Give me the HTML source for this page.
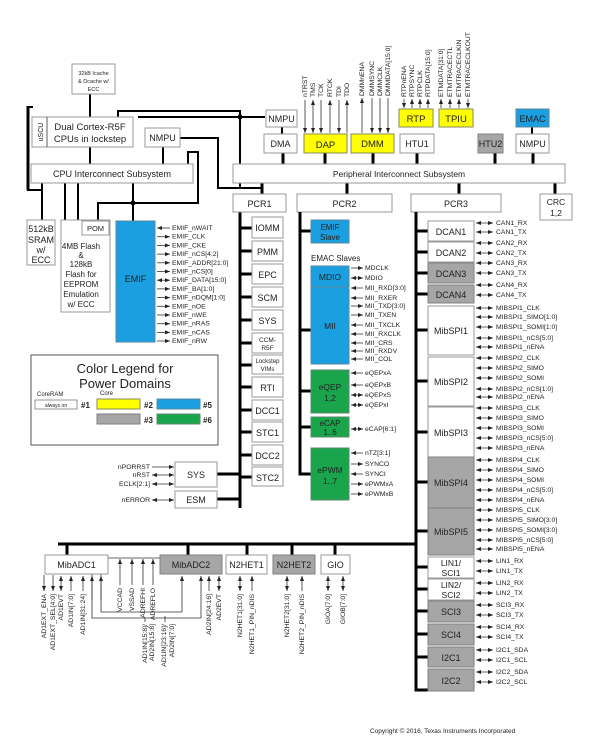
<!DOCTYPE html>
<html><head><meta charset="utf-8"><style>
body{margin:0;background:#fff}
svg{display:block;font-family:"Liberation Sans",sans-serif;font-size:6.8px}
.b{fill:#fff;stroke:#9a9a9a;stroke-width:1}
.y{fill:#ffff00;stroke:#8a8a5a;stroke-width:1}
.u{fill:#1a9fe0;stroke:#5a8aa0;stroke-width:1}
.g{fill:#a6a6a6;stroke:#808080;stroke-width:1}
.n{fill:#1aa54c;stroke:#5a8a6a;stroke-width:1}
.t{fill:#222;text-anchor:middle}
.s{fill:#222}
.k{stroke:#000;stroke-width:3;fill:none}
.m{stroke:#000;stroke-width:2;fill:none}
.l{stroke:#333;stroke-width:0.8;fill:none}
.a{stroke:#333;stroke-width:0.8;marker-end:url(#ar)}
.d{stroke:#333;stroke-width:0.8;marker-end:url(#ar);marker-start:url(#al)}
.r{stroke:#333;stroke-width:0.8;marker-start:url(#al)}
</style></head><body>
<svg width="603" height="740" viewBox="0 0 603 740">
<defs>
<marker id="ar" markerWidth="5" markerHeight="4" refX="5" refY="2" orient="auto" markerUnits="userSpaceOnUse"><path d="M0,0L5,2L0,4z" fill="#222"/></marker>
<marker id="al" markerWidth="5" markerHeight="4" refX="0" refY="2" orient="auto" markerUnits="userSpaceOnUse"><path d="M5,0L0,2L5,4z" fill="#222"/></marker>
</defs>
<path class="m" d="M90,94V117 M90,147V164 M163,147V164 M118,117V111H240V188 M138,117H265 M180,138H218V188H240 M28,107H33 M28,107V190H42 M42,183V220 M65,183V220 M78,183V220 M133,183V221 M98,221V203H198V152H188V164 M240,188H262V194"/>
<circle cx="240" cy="117" r="2.5"/><circle cx="133" cy="203" r="2.5"/>
<path class="k" d="M28,106V190"/>
<rect class="b" x="72" y="64" width="43" height="30"/>
<text class="s" x="93.5" y="75" text-anchor="middle" font-size="5.5">32kB Icache</text>
<text class="s" x="93.5" y="83" text-anchor="middle" font-size="5.5">&amp; Dcache w/</text>
<text class="s" x="93.5" y="91" text-anchor="middle" font-size="5.5">ECC</text>
<rect class="b" x="32" y="117" width="101" height="30"/><line class="l" x1="47" y1="117" x2="47" y2="147"/>
<text class="s" transform="translate(43,132) rotate(-90)" text-anchor="middle" font-size="7">uSCU</text>
<text class="t" x="90" y="130" font-size="9.5">Dual Cortex-R5F</text>
<text class="t" x="90" y="142" font-size="9.5">CPUs in lockstep</text>
<rect class="b" x="145" y="128" width="35" height="19"/><text class="t" x="162.5" y="141" font-size="9">NMPU</text>
<rect class="b" x="31" y="164" width="162" height="19"/><text class="t" x="112" y="177" font-size="9">CPU Interconnect Subsystem</text>
<rect class="b" x="27" y="220" width="28" height="45"/>
<text class="t" x="41" y="232" font-size="9">512kB</text><text class="t" x="41" y="243" font-size="9">SRAM</text><text class="t" x="41" y="253" font-size="9">w/</text><text class="t" x="41" y="263" font-size="9">ECC</text>
<rect class="b" x="61" y="220" width="49" height="92"/>
<rect class="b" x="82" y="221" width="27" height="14"/><text class="t" x="95.5" y="231" font-size="7.5">POM</text>
<text class="t" x="81" y="249" font-size="8">4MB Flash</text><text class="t" x="81" y="258" font-size="8">&amp;</text><text class="t" x="81" y="267" font-size="8">128kB</text><text class="t" x="81" y="277" font-size="8">Flash for</text><text class="t" x="81" y="287" font-size="8">EEPROM</text><text class="t" x="81" y="297" font-size="8">Emulation</text><text class="t" x="81" y="307" font-size="8">w/ ECC</text>
<rect class="u" x="116" y="221" width="39" height="121"/><text class="t" x="135.5" y="282" font-size="9">EMIF</text>
<g>
<line class="r" x1="157" y1="228" x2="170" y2="228"/><text class="s" x="172" y="230">EMIF_nWAIT</text>
<line class="a" x1="157" y1="236.7" x2="170" y2="236.7"/><text class="s" x="172" y="238.7">EMIF_CLK</text>
<line class="a" x1="157" y1="245.4" x2="170" y2="245.4"/><text class="s" x="172" y="247.4">EMIF_CKE</text>
<line class="a" x1="157" y1="254.1" x2="170" y2="254.1"/><text class="s" x="172" y="256.1">EMIF_nCS[4:2]</text>
<line class="a" x1="157" y1="262.8" x2="170" y2="262.8"/><text class="s" x="172" y="264.8">EMIF_ADDR[21:0]</text>
<line class="a" x1="157" y1="271.5" x2="170" y2="271.5"/><text class="s" x="172" y="273.5">EMIF_nCS[0]</text>
<line class="d" x1="157" y1="280.2" x2="170" y2="280.2"/><text class="s" x="172" y="282.2">EMIF_DATA[15:0]</text>
<line class="a" x1="157" y1="288.9" x2="170" y2="288.9"/><text class="s" x="172" y="290.9">EMIF_BA[1:0]</text>
<line class="a" x1="157" y1="297.6" x2="170" y2="297.6"/><text class="s" x="172" y="299.6">EMIF_nDQM[1:0]</text>
<line class="a" x1="157" y1="306.3" x2="170" y2="306.3"/><text class="s" x="172" y="308.3">EMIF_nOE</text>
<line class="a" x1="157" y1="315" x2="170" y2="315"/><text class="s" x="172" y="317">EMIF_nWE</text>
<line class="a" x1="157" y1="323.7" x2="170" y2="323.7"/><text class="s" x="172" y="325.7">EMIF_nRAS</text>
<line class="a" x1="157" y1="332.4" x2="170" y2="332.4"/><text class="s" x="172" y="334.4">EMIF_nCAS</text>
<line class="a" x1="157" y1="341" x2="170" y2="341"/><text class="s" x="172" y="343">EMIF_nRW</text>
</g>
<rect x="31" y="355" width="187" height="90" fill="#fff" stroke="#555" stroke-width="1"/>
<text class="t" x="125" y="373" font-size="13">Color Legend for</text>
<text class="t" x="125" y="388" font-size="13">Power Domains</text>
<text class="s" x="37" y="396" font-size="6">CoreRAM</text><text class="s" x="100" y="395" font-size="6">Core</text>
<rect x="35" y="400" width="42" height="9" fill="#fff" stroke="#666" stroke-width="0.7"/><text class="s" x="56" y="407" text-anchor="middle" font-size="5">always on</text>
<text class="s" x="81" y="408" font-size="8" font-weight="bold">#1</text>
<rect class="y" x="97" y="399" width="43" height="10"/><text class="s" x="144" y="408" font-size="8" font-weight="bold">#2</text>
<rect class="u" x="157" y="399" width="43" height="10"/><text class="s" x="203" y="408" font-size="8" font-weight="bold">#5</text>
<rect class="g" x="97" y="414" width="43" height="10"/><text class="s" x="144" y="423" font-size="8" font-weight="bold">#3</text>
<rect class="n" x="157" y="414" width="43" height="10"/><text class="s" x="203" y="423" font-size="8" font-weight="bold">#6</text>
<path class="k" d="M240,212V508 M217,474H240 M217,499H240"/>
<rect class="b" x="175" y="462" width="42" height="25"/><text class="t" x="196" y="478" font-size="9">SYS</text>
<rect class="b" x="175" y="491" width="42" height="17"/><text class="t" x="196" y="503" font-size="9">ESM</text>
<line class="a" x1="152" y1="467" x2="174" y2="467"/><text class="s" x="150" y="469" text-anchor="end">nPORRST</text>
<line class="d" x1="152" y1="475" x2="174" y2="475"/><text class="s" x="150" y="477" text-anchor="end">nRST</text>
<line class="d" x1="152" y1="484" x2="174" y2="484"/><text class="s" x="150" y="486" text-anchor="end">ECLK[2:1]</text>
<line class="d" x1="152" y1="500" x2="174" y2="500"/><text class="s" x="150" y="502" text-anchor="end">nERROR</text>
<g class="k"><path d="M240,228H252 M240,251H252 M240,274H252 M240,297H252 M240,320H252 M240,343H252 M240,365H252 M240,387H252 M240,410H252 M240,432H252 M240,455H252 M240,477H252"/></g>
<rect class="b" x="252" y="217" width="31" height="21"/><text class="t" x="267.5" y="231" font-size="9">IOMM</text>
<rect class="b" x="252" y="241" width="31" height="20"/><text class="t" x="267.5" y="255" font-size="9">PMM</text>
<rect class="b" x="252" y="264" width="31" height="20"/><text class="t" x="267.5" y="278" font-size="9">EPC</text>
<rect class="b" x="252" y="287" width="31" height="20"/><text class="t" x="267.5" y="301" font-size="9">SCM</text>
<rect class="b" x="252" y="310" width="31" height="20"/><text class="t" x="267.5" y="324" font-size="9">SYS</text>
<rect class="b" x="252" y="333" width="31" height="20"/><text class="t" x="267.5" y="342" font-size="6.5">CCM-</text><text class="t" x="267.5" y="350" font-size="6.5">R5F</text>
<rect class="b" x="252" y="355" width="31" height="19"/><text class="t" x="267.5" y="363" font-size="6">Lockstep</text><text class="t" x="267.5" y="371" font-size="6">VIMs</text>
<rect class="b" x="252" y="377" width="31" height="20"/><text class="t" x="267.5" y="391" font-size="9">RTI</text>
<rect class="b" x="252" y="400" width="31" height="20"/><text class="t" x="267.5" y="414" font-size="9">DCC1</text>
<rect class="b" x="252" y="422" width="31" height="20"/><text class="t" x="267.5" y="436" font-size="9">STC1</text>
<rect class="b" x="252" y="445" width="31" height="20"/><text class="t" x="267.5" y="459" font-size="9">DCC2</text>
<rect class="b" x="252" y="467" width="31" height="19"/><text class="t" x="267.5" y="481" font-size="9">STC2</text>
<path class="m" d="M282,127V134 M532,127V134"/>
<path class="k" d="M283,153V164 M325,153V164 M373,153V164 M417,153V164 M495,153V164 M533,153V164 M262,183V194 M347,183V194 M459,183V194 M555,183V194"/>
<rect class="b" x="266" y="110" width="31" height="17"/><text class="t" x="281.5" y="122" font-size="9">NMPU</text>
<rect class="b" x="264" y="134" width="33" height="19"/><text class="t" x="280.5" y="147" font-size="9">DMA</text>
<rect class="y" x="304" y="134" width="43" height="19"/><text class="t" x="325.5" y="148" font-size="9.5">DAP</text>
<rect class="y" x="351" y="134" width="43" height="19"/><text class="t" x="372.5" y="147" font-size="9.5">DMM</text>
<rect class="y" x="399" y="109" width="34" height="18"/><text class="t" x="416" y="122" font-size="9.5">RTP</text>
<rect class="y" x="439" y="109" width="34" height="18"/><text class="t" x="456" y="122" font-size="9.5">TPIU</text>
<rect class="b" x="400" y="134" width="34" height="19"/><text class="t" x="417" y="147" font-size="9">HTU1</text>
<rect class="g" x="478" y="134" width="25" height="19"/><text class="t" x="490.5" y="147" font-size="9">HTU2</text>
<rect class="u" x="516" y="109" width="33" height="18"/><text class="t" x="532.5" y="122" font-size="9">EMAC</text>
<rect class="b" x="516" y="134" width="33" height="19"/><text class="t" x="532.5" y="147" font-size="9">NMPU</text>
<rect class="b" x="233" y="164" width="332" height="19"/><text class="t" x="399" y="177" font-size="8.5">Peripheral Interconnect Subsystem</text>
<g>
<line class="a" x1="305" y1="100" x2="305" y2="133"/><line class="d" x1="313" y1="100" x2="313" y2="133"/><line class="a" x1="321" y1="100" x2="321" y2="133"/><line class="r" x1="330" y1="100" x2="330" y2="133"/><line class="a" x1="339" y1="100" x2="339" y2="133"/><line class="r" x1="347" y1="100" x2="347" y2="133"/>
<line class="r" x1="362" y1="98" x2="362" y2="133"/><line class="a" x1="372" y1="98" x2="372" y2="133"/><line class="a" x1="380" y1="98" x2="380" y2="133"/><line class="a" x1="388" y1="98" x2="388" y2="133"/>
<line class="a" x1="404" y1="99" x2="404" y2="108"/><line class="r" x1="412" y1="99" x2="412" y2="108"/><line class="r" x1="420" y1="99" x2="420" y2="108"/><line class="r" x1="428" y1="99" x2="428" y2="108"/>
<line class="r" x1="441" y1="99" x2="441" y2="108"/><line class="r" x1="450" y1="99" x2="450" y2="108"/><line class="r" x1="459" y1="99" x2="459" y2="108"/><line class="a" x1="468" y1="99" x2="468" y2="108"/>
</g>
<g class="s">
<text transform="translate(307,97) rotate(-90)">nTRST</text><text transform="translate(315,97) rotate(-90)">TMS</text><text transform="translate(323,97) rotate(-90)">TCK</text><text transform="translate(332,97) rotate(-90)">RTCK</text><text transform="translate(341,97) rotate(-90)">TDI</text><text transform="translate(349,97) rotate(-90)">TDO</text>
<text transform="translate(364,96) rotate(-90)">DMMnENA</text><text transform="translate(374,96) rotate(-90)">DMMSYNC</text><text transform="translate(382,96) rotate(-90)">DMMCLK</text><text transform="translate(390,96) rotate(-90)">DMMDATA[15:0]</text>
<text transform="translate(406,97) rotate(-90)">RTPnENA</text><text transform="translate(414,97) rotate(-90)">RTPSYNC</text><text transform="translate(422,97) rotate(-90)">RTPCLK</text><text transform="translate(430,97) rotate(-90)">RTPDATA[15:0]</text>
<text transform="translate(443,97) rotate(-90)">ETMDATA[31:0]</text><text transform="translate(452,97) rotate(-90)">ETMTRACECTL</text><text transform="translate(461,97) rotate(-90)">ETMTRACECLKIN</text><text transform="translate(470,97) rotate(-90)">ETMTRACECLKOUT</text>
</g>
<rect class="b" x="233" y="194" width="53" height="18"/><text class="t" x="259.5" y="207" font-size="9">PCR1</text>
<rect class="b" x="297" y="194" width="95" height="18"/><text class="t" x="344.5" y="207" font-size="9">PCR2</text>
<rect class="b" x="411" y="194" width="90" height="18"/><text class="t" x="456" y="207" font-size="9">PCR3</text>
<rect class="b" x="540" y="194" width="32" height="26"/><text class="t" x="556" y="205" font-size="8.5">CRC</text><text class="t" x="556" y="216" font-size="8.5">1,2</text>
<path class="k" d="M300,212V474H311 M300,231H311 M300,330H311 M300,391H311 M300,427H311"/>
<rect class="u" x="311" y="220" width="38" height="23"/><text class="t" x="330" y="230" font-size="8">EMIF</text><text class="t" x="330" y="240" font-size="8">Slave</text>
<text class="s" x="311" y="261" font-size="8">EMAC Slaves</text>
<rect class="u" x="311" y="266" width="38" height="21"/><text class="t" x="330" y="280" font-size="8.5">MDIO</text>
<rect class="u" x="311" y="287" width="38" height="77"/><text class="t" x="330" y="329" font-size="8.5">MII</text>
<rect class="n" x="311" y="370" width="38" height="43"/><text class="t" x="330" y="390" font-size="8.5">eQEP</text><text class="t" x="330" y="401" font-size="8.5">1,2</text>
<rect class="n" x="311" y="417" width="38" height="20"/><text class="t" x="330" y="426" font-size="8">eCAP</text><text class="t" x="330" y="435" font-size="8">1..6</text>
<rect class="n" x="311" y="448" width="38" height="52"/><text class="t" x="330" y="473" font-size="8.5">ePWM</text><text class="t" x="330" y="484" font-size="8.5">1..7</text>
<g>
<line class="a" x1="351" y1="268" x2="363" y2="268"/><line class="d" x1="351" y1="278" x2="363" y2="278"/><line class="r" x1="351" y1="288" x2="363" y2="288"/><line class="r" x1="351" y1="298" x2="363" y2="298"/><line class="a" x1="351" y1="306" x2="363" y2="306"/><line class="a" x1="351" y1="315" x2="363" y2="315"/><line class="r" x1="351" y1="325" x2="363" y2="325"/><line class="r" x1="351" y1="334" x2="363" y2="334"/><line class="r" x1="351" y1="343" x2="363" y2="343"/><line class="r" x1="351" y1="351" x2="363" y2="351"/><line class="r" x1="351" y1="359" x2="363" y2="359"/>
<line class="r" x1="351" y1="373" x2="363" y2="373"/><line class="r" x1="351" y1="385" x2="363" y2="385"/><line class="d" x1="351" y1="395" x2="363" y2="395"/><line class="d" x1="351" y1="405" x2="363" y2="405"/><line class="d" x1="351" y1="429" x2="363" y2="429"/>
<line class="r" x1="351" y1="453" x2="363" y2="453"/><line class="a" x1="351" y1="464" x2="363" y2="464"/><line class="r" x1="351" y1="474" x2="363" y2="474"/><line class="a" x1="351" y1="484" x2="363" y2="484"/><line class="a" x1="351" y1="494" x2="363" y2="494"/>
</g>
<g class="s">
<text x="365" y="270">MDCLK</text><text x="365" y="280">MDIO</text><text x="365" y="290">MII_RXD[3:0]</text><text x="365" y="300">MII_RXER</text><text x="365" y="308">MII_TXD[3:0]</text><text x="365" y="317">MII_TXEN</text><text x="365" y="327">MII_TXCLK</text><text x="365" y="336">MII_RXCLK</text><text x="365" y="345">MII_CRS</text><text x="365" y="353">MII_RXDV</text><text x="365" y="361">MII_COL</text>
<text x="365" y="375">eQEPxA</text><text x="365" y="387">eQEPxB</text><text x="365" y="397">eQEPxS</text><text x="365" y="407">eQEPxI</text><text x="365" y="431">eCAP[6:1]</text>
<text x="365" y="455">nTZ[3:1]</text><text x="365" y="466">SYNCO</text><text x="365" y="476">SYNCI</text><text x="365" y="486">ePWMxA</text><text x="365" y="496">ePWMxB</text>
</g>
<path class="k" d="M416,212V690H428 M416,231H428 M416,252H428 M416,273H428 M416,294H428 M416,330H428 M416,381H428 M416,432H428 M416,482H428 M416,531H428 M416,567H428 M416,589H428 M416,611H428 M416,634H428 M416,657H428 M58,544H416"/>
<rect class="b" x="428" y="221" width="46" height="20"/><text class="t" x="451" y="235" font-size="9">DCAN1</text>
<rect class="b" x="428" y="242" width="46" height="20"/><text class="t" x="451" y="256" font-size="9">DCAN2</text>
<rect class="g" x="428" y="263" width="46" height="20"/><text class="t" x="451" y="277" font-size="9">DCAN3</text>
<rect class="g" x="428" y="285" width="46" height="18"/><text class="t" x="451" y="298" font-size="9">DCAN4</text>
<rect class="b" x="428" y="306" width="46" height="49"/><text class="t" x="451" y="334" font-size="9">MibSPI1</text>
<rect class="b" x="428" y="357" width="46" height="49"/><text class="t" x="451" y="385" font-size="9">MibSPI2</text>
<rect class="b" x="428" y="407" width="46" height="50"/><text class="t" x="451" y="436" font-size="9">MibSPI3</text>
<rect class="g" x="428" y="457" width="46" height="51"/><text class="t" x="451" y="486" font-size="9">MibSPI4</text>
<rect class="g" x="428" y="508" width="46" height="47"/><text class="t" x="451" y="535" font-size="9">MibSPI5</text>
<rect class="b" x="428" y="557" width="46" height="21"/><text class="t" x="451" y="566" font-size="8.5">LIN1/</text><text class="t" x="451" y="576" font-size="8.5">SCI1</text>
<rect class="b" x="428" y="579" width="46" height="21"/><text class="t" x="451" y="588" font-size="8.5">LIN2/</text><text class="t" x="451" y="598" font-size="8.5">SCI2</text>
<rect class="g" x="428" y="601" width="46" height="21"/><text class="t" x="451" y="615" font-size="9">SCI3</text>
<rect class="g" x="428" y="624" width="46" height="21"/><text class="t" x="451" y="638" font-size="9">SCI4</text>
<rect class="g" x="428" y="647" width="46" height="20"/><text class="t" x="451" y="661" font-size="9">I2C1</text>
<rect class="g" x="428" y="669" width="46" height="22"/><text class="t" x="451" y="684" font-size="9">I2C2</text>
<g>
<line class="d" x1="476" y1="223" x2="493" y2="223"/><line class="d" x1="476" y1="232" x2="493" y2="232"/><line class="d" x1="476" y1="243" x2="493" y2="243"/><line class="d" x1="476" y1="253" x2="493" y2="253"/><line class="d" x1="476" y1="263" x2="493" y2="263"/><line class="d" x1="476" y1="273" x2="493" y2="273"/><line class="d" x1="476" y1="285" x2="493" y2="285"/><line class="d" x1="476" y1="295" x2="493" y2="295"/>
<line class="d" x1="476" y1="308" x2="493" y2="308"/><line class="d" x1="476" y1="317" x2="493" y2="317"/><line class="d" x1="476" y1="327" x2="493" y2="327"/><line class="d" x1="476" y1="338" x2="493" y2="338"/><line class="d" x1="476" y1="347" x2="493" y2="347"/>
<line class="d" x1="476" y1="358" x2="493" y2="358"/><line class="d" x1="476" y1="368" x2="493" y2="368"/><line class="d" x1="476" y1="378" x2="493" y2="378"/><line class="d" x1="476" y1="389" x2="493" y2="389"/><line class="d" x1="476" y1="397" x2="493" y2="397"/>
<line class="d" x1="476" y1="408" x2="493" y2="408"/><line class="d" x1="476" y1="418" x2="493" y2="418"/><line class="d" x1="476" y1="428" x2="493" y2="428"/><line class="d" x1="476" y1="438" x2="493" y2="438"/><line class="d" x1="476" y1="448" x2="493" y2="448"/>
<line class="d" x1="476" y1="460" x2="493" y2="460"/><line class="d" x1="476" y1="470" x2="493" y2="470"/><line class="d" x1="476" y1="480" x2="493" y2="480"/><line class="d" x1="476" y1="490" x2="493" y2="490"/><line class="d" x1="476" y1="500" x2="493" y2="500"/>
<line class="d" x1="476" y1="510" x2="493" y2="510"/><line class="d" x1="476" y1="520" x2="493" y2="520"/><line class="d" x1="476" y1="530" x2="493" y2="530"/><line class="d" x1="476" y1="540" x2="493" y2="540"/><line class="d" x1="476" y1="549" x2="493" y2="549"/>
<line class="d" x1="476" y1="561" x2="493" y2="561"/><line class="d" x1="476" y1="571" x2="493" y2="571"/><line class="d" x1="476" y1="583" x2="493" y2="583"/><line class="d" x1="476" y1="593" x2="493" y2="593"/><line class="d" x1="476" y1="605" x2="493" y2="605"/><line class="d" x1="476" y1="615" x2="493" y2="615"/><line class="d" x1="476" y1="627" x2="493" y2="627"/><line class="d" x1="476" y1="637" x2="493" y2="637"/><line class="d" x1="476" y1="650" x2="493" y2="650"/><line class="d" x1="476" y1="660" x2="493" y2="660"/><line class="d" x1="476" y1="672" x2="493" y2="672"/><line class="d" x1="476" y1="682" x2="493" y2="682"/>
</g>
<g class="s">
<text x="496" y="225">CAN1_RX</text><text x="496" y="234">CAN1_TX</text><text x="496" y="245">CAN2_RX</text><text x="496" y="255">CAN2_TX</text><text x="496" y="265">CAN3_RX</text><text x="496" y="275">CAN3_TX</text><text x="496" y="287">CAN4_RX</text><text x="496" y="297">CAN4_TX</text>
<text x="496" y="310">MIBSPI1_CLK</text><text x="496" y="319">MIBSPI1_SIMO[1:0]</text><text x="496" y="329">MIBSPI1_SOMI[1:0]</text><text x="496" y="340">MIBSPI1_nCS[5:0]</text><text x="496" y="349">MIBSPI1_nENA</text>
<text x="496" y="360">MIBSPI2_CLK</text><text x="496" y="370">MIBSPI2_SIMO</text><text x="496" y="380">MIBSPI2_SOMI</text><text x="496" y="391">MIBSPI2_nCS[1:0]</text><text x="496" y="399">MIBSPI2_nENA</text>
<text x="496" y="410">MIBSPI3_CLK</text><text x="496" y="420">MIBSPI3_SIMO</text><text x="496" y="430">MIBSPI3_SOMI</text><text x="496" y="440">MIBSPI3_nCS[5:0]</text><text x="496" y="450">MIBSPI3_nENA</text>
<text x="496" y="462">MIBSPI4_CLK</text><text x="496" y="472">MIBSPI4_SIMO</text><text x="496" y="482">MIBSPI4_SOMI</text><text x="496" y="492">MIBSPI4_nCS[5:0]</text><text x="496" y="502">MIBSPI4_nENA</text>
<text x="496" y="512">MIBSPI5_CLK</text><text x="496" y="522">MIBSPI5_SIMO[3:0]</text><text x="496" y="532">MIBSPI5_SOMI[3:0]</text><text x="496" y="542">MIBSPI5_nCS[5:0]</text><text x="496" y="551">MIBSPI5_nENA</text>
<text x="496" y="563">LIN1_RX</text><text x="496" y="573">LIN1_TX</text><text x="496" y="585">LIN2_RX</text><text x="496" y="595">LIN2_TX</text><text x="496" y="607">SCI3_RX</text><text x="496" y="617">SCI3_TX</text><text x="496" y="629">SCI4_RX</text><text x="496" y="639">SCI4_TX</text><text x="496" y="652">I2C1_SDA</text><text x="496" y="662">I2C1_SCL</text><text x="496" y="674">I2C2_SDA</text><text x="496" y="684">I2C2_SCL</text>
</g>
<path class="k" d="M67,544V555 M188,544V555 M247,544V555 M292,544V555 M335,544V555"/>
<path class="l" d="M108,558H160 M101,574V612H182 M92,574V618H201 M145,618V622 M165,616V622"/>
<rect class="b" x="45" y="555" width="63" height="19"/><text class="t" x="76.5" y="568" font-size="9">MibADC1</text>
<rect class="g" x="160" y="555" width="62" height="19"/><text class="t" x="191" y="568" font-size="9">MibADC2</text>
<rect class="b" x="226" y="555" width="41" height="19"/><text class="t" x="246.5" y="568" font-size="9">N2HET1</text>
<rect class="g" x="273" y="555" width="42" height="19"/><text class="t" x="294" y="568" font-size="9">N2HET2</text>
<rect class="b" x="321" y="555" width="29" height="19"/><text class="t" x="335.5" y="568" font-size="9">GIO</text>
<g>
<line class="a" x1="44" y1="575" x2="44" y2="591"/><line class="a" x1="53" y1="575" x2="53" y2="591"/><line class="d" x1="61" y1="576" x2="61" y2="591"/><line class="r" x1="71" y1="576" x2="71" y2="591"/><line class="r" x1="83" y1="576" x2="83" y2="591"/>
<line class="r" x1="92" y1="576" x2="92" y2="600"/><line class="r" x1="101" y1="576" x2="101" y2="600"/>
<line class="r" x1="120" y1="559" x2="120" y2="585"/><line class="r" x1="132" y1="559" x2="132" y2="585"/><line class="r" x1="143" y1="559" x2="143" y2="585"/><line class="r" x1="153" y1="559" x2="153" y2="585"/>
<line class="r" x1="182" y1="576" x2="182" y2="612"/><line class="r" x1="201" y1="576" x2="201" y2="618"/>
<line class="r" x1="209" y1="576" x2="209" y2="591"/><line class="d" x1="219" y1="576" x2="219" y2="591"/>
<line class="d" x1="240" y1="576" x2="240" y2="591"/><line class="r" x1="252" y1="576" x2="252" y2="591"/>
<line class="d" x1="287" y1="576" x2="287" y2="591"/><line class="r" x1="302" y1="576" x2="302" y2="591"/>
<line class="d" x1="328" y1="576" x2="328" y2="591"/><line class="d" x1="343" y1="576" x2="343" y2="591"/>
</g>
<g class="s" text-anchor="end">
<text transform="translate(46,594) rotate(-90)">AD1EXT_ENA</text><text transform="translate(55,594) rotate(-90)">AD1EXT_SEL[4:0]</text><text transform="translate(63,594) rotate(-90)">AD1EVT</text><text transform="translate(73,594) rotate(-90)">AD1IN[7:0]</text><text transform="translate(85,594) rotate(-90)">AD1IN[31:24]</text>
<text transform="translate(122,588) rotate(-90)">VCCAD</text><text transform="translate(134,588) rotate(-90)">VSSAD</text><text transform="translate(145,588) rotate(-90)">ADREFHI</text><text transform="translate(155,588) rotate(-90)">ADREFLO</text>
<text transform="translate(147,624) rotate(-90)">AD1IN[15:8]/</text><text transform="translate(154,624) rotate(-90)">AD2IN[15:8]</text>
<text transform="translate(166,624) rotate(-90)">AD1IN[23:16]/</text><text transform="translate(174,624) rotate(-90)">AD2IN[7:0]</text>
<text transform="translate(211,594) rotate(-90)">AD2IN[24:16]</text><text transform="translate(221,594) rotate(-90)">AD2EVT</text>
<text transform="translate(242,594) rotate(-90)">N2HET1[31:0]</text><text transform="translate(254,594) rotate(-90)">N2HET1_PIN_nDIS</text>
<text transform="translate(289,594) rotate(-90)">N2HET2[31:0]</text><text transform="translate(304,594) rotate(-90)">N2HET2_PIN_nDIS</text>
<text transform="translate(330,594) rotate(-90)">GIOA[7:0]</text><text transform="translate(345,594) rotate(-90)">GIOB[7:0]</text>
</g>
<text class="s" x="370" y="733" font-size="6.5">Copyright © 2016, Texas Instruments Incorporated</text>
</svg>
</body></html>
